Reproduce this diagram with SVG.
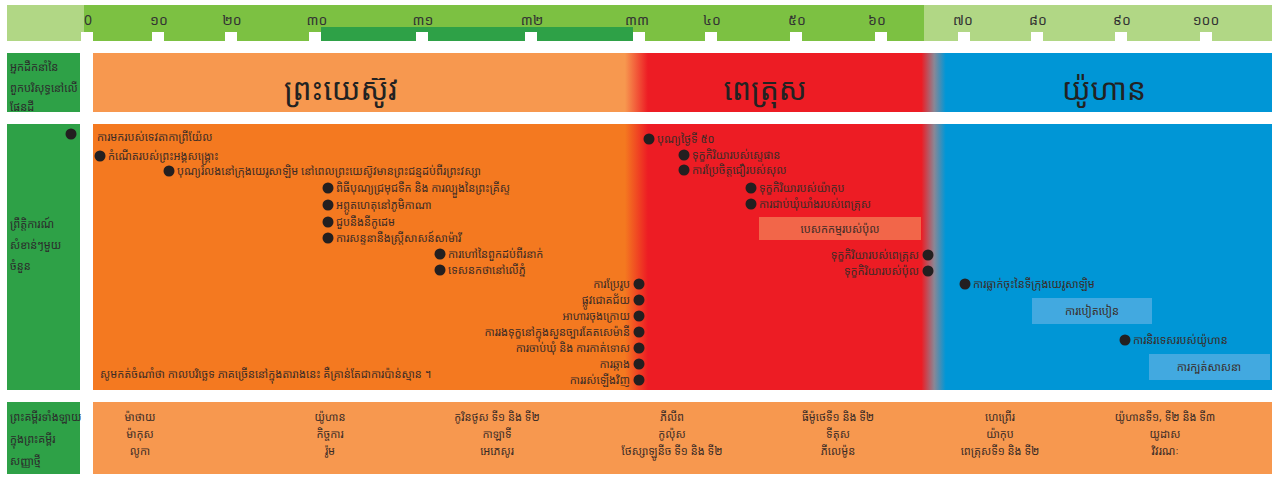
<svg xmlns="http://www.w3.org/2000/svg" width="1278" height="484" viewBox="0 0 1278 484">
<defs>
<style>
text{font-family:"Noto Sans Khmer","Khmer OS","Khmer OS System","Noto Sans","DejaVu Sans",sans-serif;fill:#3a2b26;}
.s{font-size:11px;}
.lbl{font-size:11px;fill:#2b2b2b;}
.tick{font-size:14px;fill:#333;text-anchor:middle;}
.big{font-size:30px;text-anchor:middle;fill:#222;}
.mid{text-anchor:middle;}
.end{text-anchor:end;}
.dot{fill:#231f20;}
.notch{fill:#fff;}
.col{fill:#2ea147;}
</style>
<linearGradient id="gHead" gradientUnits="userSpaceOnUse" x1="0" y1="0" x2="1278" y2="0">
<stop offset="0.489" stop-color="#f7984f"/>
<stop offset="0.507" stop-color="#ed1c24"/>
<stop offset="0.721" stop-color="#ed1c24"/>
<stop offset="0.731" stop-color="#8a8795"/>
<stop offset="0.740" stop-color="#0096d6"/>
</linearGradient>
<linearGradient id="gEv" gradientUnits="userSpaceOnUse" x1="0" y1="0" x2="1278" y2="0">
<stop offset="0.489" stop-color="#f47920"/>
<stop offset="0.507" stop-color="#ed1c24"/>
<stop offset="0.721" stop-color="#ed1c24"/>
<stop offset="0.731" stop-color="#8a8795"/>
<stop offset="0.740" stop-color="#0096d6"/>
</linearGradient>
</defs>
<rect width="1278" height="484" fill="#fff"/>

<g id="timeline">
<rect x="7" y="5" width="1265" height="36" fill="#b1d785"/>
<rect x="84" y="5" width="840" height="36" fill="#7cc142"/>
<rect x="321" y="27" width="312" height="14" fill="#2ea147"/>
<g class="notch">
<rect x="81" y="32" width="12" height="9"/>
<rect x="152" y="32" width="12" height="9"/>
<rect x="225" y="32" width="12" height="9"/>
<rect x="309" y="32" width="12" height="9"/>
<rect x="416" y="32" width="12" height="9"/>
<rect x="525" y="32" width="12" height="9"/>
<rect x="633" y="32" width="12" height="9"/>
<rect x="705" y="32" width="12" height="9"/>
<rect x="790" y="32" width="12" height="9"/>
<rect x="875" y="32" width="12" height="9"/>
<rect x="958" y="32" width="12" height="9"/>
<rect x="1031" y="32" width="12" height="9"/>
<rect x="1115" y="32" width="12" height="9"/>
<rect x="1200" y="32" width="12" height="9"/>
</g>
<text class="tick" x="88" y="25">0</text>
<text class="tick" x="159" y="25">១០</text>
<text class="tick" x="232" y="25">២០</text>
<text class="tick" x="317" y="25">៣០</text>
<text class="tick" x="423" y="25">៣១</text>
<text class="tick" x="532" y="25">៣២</text>
<text class="tick" x="637" y="25">៣៣</text>
<text class="tick" x="712" y="25">៤០</text>
<text class="tick" x="797" y="25">៥០</text>
<text class="tick" x="877" y="25">៦០</text>
<text class="tick" x="963" y="25">៧០</text>
<text class="tick" x="1038" y="25">៨០</text>
<text class="tick" x="1122" y="25">៩០</text>
<text class="tick" x="1206" y="25">១០០</text>
</g>

<g id="row-labels">
<rect class="col" x="7" y="53" width="73" height="59"/>
<text class="lbl" x="10" y="71">អ្នកដឹកនាំនៃ</text>
<text class="lbl" x="10" y="92">ពួកបរិសុទ្ធនៅលើ</text>
<text class="lbl" x="10" y="111">ផែនដី</text>
<rect class="col" x="7" y="124" width="73" height="266"/>
<text class="lbl" x="10" y="228">ព្រឹត្តិការណ៍</text>
<text class="lbl" x="10" y="249">សំខាន់ៗមួយ</text>
<text class="lbl" x="10" y="270">ចំនួន</text>
<rect class="col" x="7" y="402" width="73" height="72"/>
<text class="lbl" x="10" y="421">ព្រះគម្ពីរទាំងឡាយ</text>
<text class="lbl" x="10" y="443">ក្នុងព្រះគម្ពីរ</text>
<text class="lbl" x="10" y="465">សញ្ញាថ្មី</text>
</g>

<g id="leaders">
<rect x="93" y="53" width="1179" height="59" fill="url(#gHead)"/>
<text class="big" x="341" y="100">ព្រះយេស៊ូវ</text>
<text class="big" x="765" y="100">ពេត្រុស</text>
<text class="big" x="1104" y="100">យ៉ូហាន</text>
</g>

<g id="events-bg">
<rect x="93" y="124" width="1179" height="266" fill="url(#gEv)"/>
</g>

<g id="ev-gabriel"><circle class="dot" cx="71" cy="134" r="5.5"/><text class="s" x="97" y="141">ការមករបស់ទេវតាកាព្រីយ៉ែល</text></g>
<g id="ev-birth"><circle class="dot" cx="100" cy="156" r="5.5"/><text class="s" x="108" y="160">កំណើតរបស់ព្រះអង្គសង្គ្រោះ</text></g>
<g id="ev-passover"><circle class="dot" cx="169" cy="171" r="5.5"/><text class="s" x="177" y="175">បុណ្យរំលងនៅក្រុងយេរូសាឡិម នៅពេលព្រះយេស៊ូវមានព្រះជន្មដប់ពីរព្រះវស្សា</text></g>
<g id="ev-baptism"><circle class="dot" cx="328" cy="188" r="5.5"/><text class="s" x="336" y="192">ពិធីបុណ្យជ្រមុជទឹក និង ការល្បួងនៃព្រះគ្រីស្ទ</text></g>
<g id="ev-cana"><circle class="dot" cx="328" cy="205" r="5.5"/><text class="s" x="336" y="209">អព្ភូតហេតុនៅភូមិកាណា</text></g>
<g id="ev-nicodemus"><circle class="dot" cx="328" cy="222" r="5.5"/><text class="s" x="336" y="226">ជួបនឹងនីកូដេម</text></g>
<g id="ev-samaritan"><circle class="dot" cx="328" cy="238" r="5.5"/><text class="s" x="336" y="242">ការសន្ទនានឹងស្ត្រីសាសន៍សាម៉ារី</text></g>
<g id="ev-twelve"><circle class="dot" cx="440" cy="254" r="5.5"/><text class="s" x="448" y="258">ការហៅនៃពួកដប់ពីរនាក់</text></g>
<g id="ev-sermon"><circle class="dot" cx="440" cy="270" r="5.5"/><text class="s" x="448" y="274">ទេសនកថានៅលើភ្នំ</text></g>
<g id="ev-transfig"><circle class="dot" cx="639" cy="284" r="5.5"/><text class="s end" x="630" y="288">ការប្រែរូប</text></g>
<g id="ev-entry"><circle class="dot" cx="639" cy="300" r="5.5"/><text class="s end" x="630" y="304">ផ្លូវជោគជ័យ</text></g>
<g id="ev-supper"><circle class="dot" cx="639" cy="316" r="5.5"/><text class="s end" x="630" y="320">អាហារចុងក្រោយ</text></g>
<g id="ev-gethsemane"><circle class="dot" cx="639" cy="332" r="5.5"/><text class="s end" x="630" y="336">ការរងទុក្ខនៅក្នុងសួនច្បារគែតសេម៉ានី</text></g>
<g id="ev-trial"><circle class="dot" cx="639" cy="348" r="5.5"/><text class="s end" x="630" y="352">ការចាប់ឃុំ និង ការកាត់ទោស</text></g>
<g id="ev-cross"><circle class="dot" cx="639" cy="364" r="5.5"/><text class="s end" x="630" y="368">ការឆ្កាង</text></g>
<g id="ev-resurrection"><circle class="dot" cx="639" cy="380" r="5.5"/><text class="s end" x="630" y="384">ការរស់ឡើងវិញ</text></g>
<g id="note"><text class="s" x="100" y="378">សូមកត់ចំណាំថា កាលបរិច្ឆេទ ភាគច្រើននៅក្នុងតារាងនេះ គឺគ្រាន់តែជាការប៉ាន់ស្មាន ។</text></g>

<g id="ev-pentecost"><circle class="dot" cx="649" cy="139" r="5.5"/><text class="s" x="657" y="143">បុណ្យថ្ងៃទី ៥០</text></g>
<g id="ev-stephen"><circle class="dot" cx="684" cy="155" r="5.5"/><text class="s" x="692" y="159">ទុក្ខកិរិយារបស់ស្ទេផាន</text></g>
<g id="ev-saul"><circle class="dot" cx="684" cy="170" r="5.5"/><text class="s" x="692" y="174">ការប្រែចិត្តជឿរបស់សុល</text></g>
<g id="ev-james"><circle class="dot" cx="751" cy="188" r="5.5"/><text class="s" x="759" y="192">ទុក្ខកិរិយារបស់យ៉ាកុប</text></g>
<g id="ev-peterjail"><circle class="dot" cx="751" cy="204" r="5.5"/><text class="s" x="759" y="208">ការជាប់ឃុំឃាំងរបស់ពេត្រុស</text></g>
<g id="ev-mission"><rect x="759" y="217" width="162" height="23" fill="#f26649"/><text class="s mid" x="840" y="233">បេសកកម្មរបស់ប៉ុល</text></g>
<g id="ev-petermartyr"><circle class="dot" cx="928" cy="255" r="5.5"/><text class="s end" x="919" y="259">ទុក្ខកិរិយារបស់ពេត្រុស</text></g>
<g id="ev-paulmartyr"><circle class="dot" cx="928" cy="271" r="5.5"/><text class="s end" x="919" y="275">ទុក្ខកិរិយារបស់ប៉ុល</text></g>

<g id="ev-jerusalem"><circle class="dot" cx="965" cy="284" r="5.5"/><text class="s" x="973" y="288">ការធ្លាក់ចុះនៃទីក្រុងយេរូសាឡិម</text></g>
<g id="ev-persecution"><rect x="1032" y="298" width="120" height="26" fill="#42a9e0"/><text class="s mid" x="1092" y="315">ការបៀតបៀន</text></g>
<g id="ev-exile"><circle class="dot" cx="1125" cy="340" r="5.5"/><text class="s" x="1133" y="344">ការនិរទេសរបស់យ៉ូហាន</text></g>
<g id="ev-apostasy"><rect x="1149" y="354" width="121" height="26" fill="#42a9e0"/><text class="s mid" x="1209" y="371">ការក្បត់សាសនា</text></g>

<g id="books">
<rect x="93" y="402" width="1179" height="72" fill="#f7984f"/>
<g class="s">
<text class="s mid" x="140" y="421">ម៉ាថាយ</text>
<text class="s mid" x="140" y="438">ម៉ាកុស</text>
<text class="s mid" x="140" y="455">លូកា</text>
<text class="s mid" x="330" y="421">យ៉ូហាន</text>
<text class="s mid" x="330" y="438">កិច្ចការ</text>
<text class="s mid" x="330" y="455">រ៉ូម</text>
<text class="s mid" x="497" y="421">កូរិនថូស ទី១ និង ទី២</text>
<text class="s mid" x="497" y="438">កាឡាទី</text>
<text class="s mid" x="497" y="455">អេភេសូរ</text>
<text class="s mid" x="672" y="421">ភីលីព</text>
<text class="s mid" x="672" y="438">កូល៉ុស</text>
<text class="s mid" x="672" y="455">ថែស្សាឡូនីច ទី១ និង ទី២</text>
<text class="s mid" x="838" y="421">ធីម៉ូថេទី១ និង ទី២</text>
<text class="s mid" x="838" y="438">ទីតុស</text>
<text class="s mid" x="838" y="455">ភីលេម៉ូន</text>
<text class="s mid" x="1000" y="421">ហេព្រើរ</text>
<text class="s mid" x="1000" y="438">យ៉ាកុប</text>
<text class="s mid" x="1000" y="455">ពេត្រុសទី១ និង ទី២</text>
<text class="s mid" x="1165" y="421">យ៉ូហានទី១, ទី២ និង ទី៣</text>
<text class="s mid" x="1165" y="438">យូដាស</text>
<text class="s mid" x="1165" y="455">វិវរណៈ</text>
</g>
</g>
</svg>
